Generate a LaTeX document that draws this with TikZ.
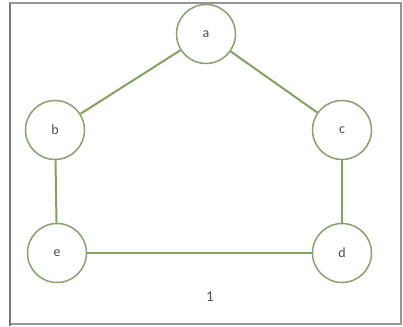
\documentclass[tikz,border=0pt]{standalone}
\usepackage{fontspec}
\setmainfont{Carlito}
\definecolor{edgegreen}{RGB}{132,160,98}
\definecolor{ringgreen}{RGB}{138,160,112}
\definecolor{framegray}{RGB}{150,150,150}
\begin{document}
\begin{tikzpicture}[x=1pt,y=-1pt,
  vertex/.style={circle,draw=ringgreen,line width=1.5pt,fill=white,minimum size=59pt,inner sep=0pt,font=\fontsize{14}{16}\selectfont,text=black!70},
  link/.style={draw=edgegreen,line width=2pt}]
  \useasboundingbox (0,0) rectangle (403,326);
  % outer frame
  \draw[framegray,line width=1.2pt] (10,3) rectangle (401,324);
  \draw[framegray!80!black,line width=2pt] (10,3) -- (10,326);
  % vertices
  \node[vertex] (a) at (206,34) {a};
  \node[vertex] (b) at (55,130) {b};
  \node[vertex] (c) at (342,130) {c};
  \node[vertex] (e) at (57,253) {e};
  \node[vertex] (d) at (342,253) {d};
  % edges
  \draw[link] (a) -- (b);
  \draw[link] (a) -- (c);
  \draw[link] (b) -- (e);
  \draw[link] (c) -- (d);
  \draw[link] (e) -- (d);
  \node[font=\fontsize{15}{17}\selectfont,text=black!70] (lbl) at (210,297) {1};
\end{tikzpicture}
\end{document}
